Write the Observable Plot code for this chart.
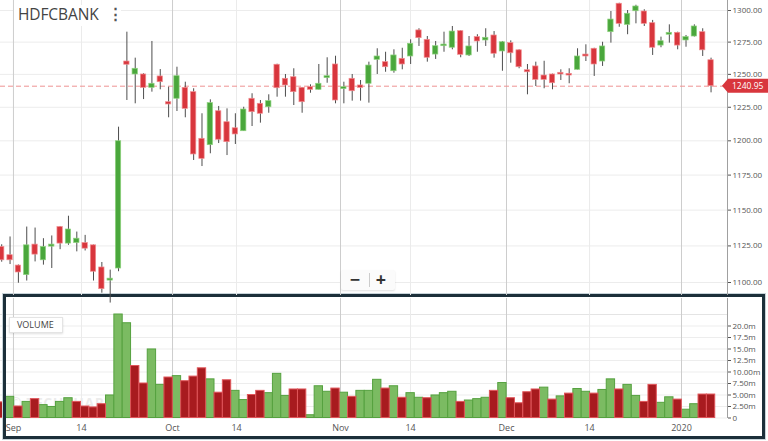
<!DOCTYPE html>
<html>
<head>
<meta charset="utf-8">
<script src="https://cdn.jsdelivr.net/npm/d3@7"></script>
<script src="https://cdn.jsdelivr.net/npm/@observablehq/plot@0.6"></script>
<style>
  html, body { margin: 0; padding: 0; background: #fff; }
  #wrap { position: relative; width: 768px; height: 441px; overflow: hidden; background: #fff; font-family: "Open Sans", sans-serif; }
  #wrap > * { position: absolute; left: 0; top: 0; }
  #watermark { left: 10px; top: 393px; font-size: 14px; font-weight: bold; color: #000; opacity: 0.07; letter-spacing: 0.5px; white-space: nowrap; }
  #border { left: 3px; top: 294px; width: 762px; height: 145px; box-sizing: border-box; border: 3px solid #1c2f3a; box-shadow: 0 0 0 1px #c7d3d9; }
  #title { left: 14px; top: 5px; width: 107px; height: 21px; background: #fff; }
  #title span.n { position: absolute; left: 4px; top: -2px; font-size: 15.5px; color: #444; letter-spacing: -0.1px; }
  #title span.m { position: absolute; left: 94px; top: -2px; font-size: 15px; color: #555; font-weight: bold; }
  #zoomctl { left: 341px; top: 270px; width: 54px; height: 20px; background: #fbfbfb; border-radius: 2px; box-shadow: 0 1px 2px rgba(0,0,0,0.12); }
  #zoomctl .b { position: absolute; top: -3px; font-size: 18px; font-weight: bold; color: #333; width: 20px; text-align: center; }
  #zoomctl .s { position: absolute; left: 28px; top: 3px; width: 1px; height: 14px; background: #ccc; }
  #vlabel { left: 9px; top: 317px; width: 54px; height: 16px; box-sizing: border-box; background: #fff; border: 1px solid #e4e4e4; box-shadow: 0 1px 2px rgba(0,0,0,0.12); font-size: 9px; color: #444; line-height: 14px; padding-left: 7px; }
</style>
</head>
<body>
<div id="wrap">
  <div id="watermark">© TECHCHARTS</div>
</div>
<script>
// ---- data (NSE trading days, Aug 29 2019 – Jan 6 2020) ----
const dates = [
  "2019-08-29","2019-08-30","2019-09-03","2019-09-04","2019-09-05","2019-09-06","2019-09-09","2019-09-11","2019-09-12","2019-09-13",
  "2019-09-16","2019-09-17","2019-09-18","2019-09-19","2019-09-20","2019-09-23","2019-09-24","2019-09-25","2019-09-26","2019-09-27",
  "2019-09-30","2019-10-01","2019-10-03","2019-10-04","2019-10-07","2019-10-09","2019-10-10","2019-10-11","2019-10-14","2019-10-15",
  "2019-10-16","2019-10-17","2019-10-18","2019-10-22","2019-10-23","2019-10-24","2019-10-25","2019-10-27","2019-10-29","2019-10-30",
  "2019-10-31","2019-11-01","2019-11-04","2019-11-05","2019-11-06","2019-11-07","2019-11-08","2019-11-11","2019-11-13","2019-11-14",
  "2019-11-15","2019-11-18","2019-11-19","2019-11-20","2019-11-21","2019-11-22","2019-11-25","2019-11-26","2019-11-27","2019-11-28",
  "2019-11-29","2019-12-02","2019-12-03","2019-12-04","2019-12-05","2019-12-06","2019-12-09","2019-12-10","2019-12-11","2019-12-12",
  "2019-12-13","2019-12-16","2019-12-17","2019-12-18","2019-12-19","2019-12-20","2019-12-23","2019-12-24","2019-12-26","2019-12-27",
  "2019-12-30","2019-12-31","2020-01-01","2020-01-02","2020-01-03","2020-01-06"
];
const open = [
  1124.3,1118.6,1111.5,1105.0,1125.9,1115.1,1124.5,1138.1,1126.6,1127.0,
  1127.0,1125.4,1110.2,1101.3,1109.5,1259.9,1249.9,1249.9,1239.7,1248.4,
  1228.8,1231.4,1239.7,1236.4,1201.5,1196.8,1222.0,1213.8,1209.3,1207.1,
  1231.4,1227.6,1225.0,1257.4,1246.6,1247.8,1239.7,1240.2,1238.2,1247.1,
  1257.6,1238.7,1246.6,1241.5,1242.8,1261.2,1259.4,1252.4,1262.0,1263.8,
  1284.2,1276.8,1265.3,1271.8,1270.6,1283.6,1264.6,1278.9,1276.3,1280.2,
  1267.7,1274.2,1268.6,1253.2,1256.1,1249.1,1249.9,1251.2,1250.4,1253.5,
  1265.3,1269.8,1259.9,1282.8,1305.4,1288.6,1299.4,1299.2,1289.9,1272.3,
  1280.8,1282.3,1276.3,1279.4,1282.8,1260.9
];
const high = [
  1125.8,1131.2,1111.9,1138.1,1137.4,1130.0,1131.9,1138.5,1145.7,1134.6,
  1132.3,1125.6,1113.6,1108.4,1210.1,1282.8,1262.5,1250.5,1275.5,1253.7,
  1240.2,1255.5,1244.0,1239.0,1220.1,1230.6,1225.6,1223.8,1220.1,1225.0,
  1235.2,1230.1,1234.4,1257.8,1249.9,1254.3,1240.0,1242.0,1257.6,1262.8,
  1264.0,1244.0,1249.9,1245.3,1259.4,1269.8,1267.1,1269.0,1270.2,1276.8,
  1285.5,1279.4,1275.5,1282.8,1287.3,1284.0,1279.4,1280.8,1285.5,1283.3,
  1275.5,1276.0,1269.0,1257.6,1259.4,1260.1,1250.2,1253.5,1254.3,1269.8,
  1272.9,1270.2,1274.9,1299.2,1305.8,1300.0,1304.2,1300.6,1292.1,1278.9,
  1288.6,1282.8,1280.2,1288.6,1285.5,1262.5
];
const low = [
  1113.8,1112.2,1099.5,1101.0,1114.0,1111.8,1109.5,1122.4,1125.4,1120.9,
  1121.5,1101.0,1092.8,1086.2,1107.3,1230.1,1227.6,1230.8,1236.4,1238.2,
  1217.1,1221.8,1217.1,1185.6,1181.2,1190.5,1198.0,1189.2,1197.3,1207.0,
  1210.6,1213.1,1220.5,1232.6,1232.6,1226.3,1220.5,1235.6,1238.0,1243.2,
  1227.6,1227.6,1229.6,1229.6,1228.1,1249.9,1251.6,1250.9,1253.5,1257.6,
  1271.6,1259.4,1261.5,1267.1,1269.0,1262.8,1263.8,1267.1,1271.6,1262.5,
  1252.4,1258.6,1254.3,1234.4,1240.7,1239.0,1238.2,1245.3,1242.8,1253.3,
  1259.9,1248.4,1256.1,1274.2,1286.7,1280.8,1289.4,1287.3,1264.6,1270.6,
  1274.2,1269.0,1271.0,1279.0,1263.8,1235.9
];
const close = [
  1115.1,1115.1,1106.8,1125.4,1119.0,1124.3,1125.9,1126.6,1136.4,1130.0,
  1123.1,1107.3,1095.5,1102.6,1199.7,1257.4,1254.3,1239.7,1242.8,1244.0,
  1227.1,1248.6,1223.8,1190.0,1186.8,1228.1,1200.8,1199.0,1204.7,1223.3,
  1221.3,1220.1,1229.6,1239.4,1241.5,1236.4,1228.8,1238.2,1242.8,1248.6,
  1230.1,1240.2,1237.1,1239.7,1256.8,1263.8,1255.5,1264.6,1257.6,1273.7,
  1278.1,1262.8,1271.8,1273.1,1283.3,1265.1,1271.6,1275.5,1278.4,1265.9,
  1274.9,1266.3,1255.5,1251.6,1245.8,1245.8,1243.2,1249.9,1249.1,1263.8,
  1263.8,1257.6,1271.6,1292.8,1289.4,1297.4,1303.2,1289.4,1270.6,1275.7,
  1282.3,1272.3,1278.9,1287.3,1268.6,1240.95
];
// volume in millions of shares
const volume = [
  3.4,4.6,2.5,3.5,4.1,2.8,2.4,3.5,4.3,3.5,
  2.5,2.3,3.0,4.9,22.5,20.6,11.3,7.5,14.9,7.2,
  8.8,9.1,8.0,9.0,10.8,8.4,5.5,8.2,5.9,3.9,
  5.0,5.9,5.4,9.6,4.8,6.2,6.2,0.6,6.9,5.7,
  6.4,5.5,4.6,5.9,5.9,8.3,6.4,6.9,4.4,5.4,
  4.4,4.3,4.9,5.4,5.7,3.5,3.8,4.1,4.4,5.9,
  7.6,4.3,3.2,5.6,6.2,6.6,4.0,4.7,5.3,6.3,
  5.7,5.3,6.1,8.4,6.2,7.2,4.8,3.5,7.2,3.3,
  4.5,4.0,1.8,3.0,5.1,5.1
];
// volume bar colour: 1 = up (green), 0 = down (red)
const volDir = [
  0,1,0,1,0,1,1,1,1,0,
  0,0,0,1,1,1,0,0,1,1,
  0,1,0,0,0,1,0,0,1,1,
  0,0,1,1,1,0,0,1,1,1,
  0,1,0,1,1,1,0,1,0,1,
  1,0,1,1,1,0,1,1,1,0,
  1,0,0,0,0,1,0,1,0,1,
  1,0,1,1,0,1,1,0,0,1,
  1,0,1,1,0,0
];
const lastClose = 1240.95;
const priceTicks = [1100,1125,1150,1175,1200,1225,1250,1275,1300];
const volTicks = [0,2.5e6,5e6,7.5e6,10e6,12.5e6,15e6,17.5e6,20e6];
const volTickLabels = ["0","2.50m","5.00m","7.50m","10.00m","12.5m","15.0m","17.5m","20.0m"];
const xTickLabels = ["Sep","14","Oct","14","Nov","14","Dec","14","2020"];
const xTickPos = [1.41, 9.56, 20.47, 28.14, 40.60, 48.99, 60.49, 70.44, 81.46]; // in trading-day index
const xTickMajor = [1,0,1,0,1,0,1,0,1];

// ---- build tables ----
const candles = dates.map((d, i) => ({
  i, date: d, open: open[i], high: high[i], low: low[i], close: close[i],
  vol: volume[i] * 1e6, volUp: volDir[i] === 1
}));
const upC = candles.filter(d => d.close >= d.open);
const dnC = candles.filter(d => d.close < d.open);
const xTicks = xTickLabels.map((label, k) => ({label, idx: xTickPos[k], major: xTickMajor[k] === 1}));
const xDomain = [-0.144, 86.97];
const half = 0.32;

const wrap = document.getElementById("wrap");
const font = "'Open Sans', sans-serif";

// ---- volume panel ----
const volPlot = Plot.plot({
  width: 768, height: 441,
  marginLeft: 0, marginRight: 41, marginTop: 298, marginBottom: 23,
  style: {background: "transparent", overflow: "visible", fontFamily: font, fontSize: "8px", color: "#555"},
  x: {domain: xDomain, axis: null},
  y: {domain: [0, 20e6], range: [417.5, 325.5], axis: null},
  marks: [
    Plot.ruleY(volTicks, {stroke: "#ededed"}),
    Plot.ruleY([22.5e6], {stroke: "#e4e4e4"}),
    Plot.ruleX(xTicks.filter(d => !d.major), {x: "idx", stroke: "#ebebeb"}),
    Plot.ruleX(xTicks.filter(d => d.major), {x: "idx", stroke: "#cdcdcd"}),
    Plot.rect(candles.filter(d => d.volUp), {x1: d => d.i - 0.5, x2: d => d.i + 0.5, y1: 0, y2: "vol", fill: "#7bbb62", stroke: "#55a13f", strokeWidth: 1}),
    Plot.rect(candles.filter(d => !d.volUp), {x1: d => d.i - 0.5, x2: d => d.i + 0.5, y1: 0, y2: "vol", fill: "#a81b1f", stroke: "#e0555a", strokeWidth: 1}),
    Plot.ruleX([xDomain[1]], {stroke: "#a0a0a0"}),
    Plot.axisY({anchor: "right", label: null, ticks: volTicks, tickFormat: d => volTickLabels[volTicks.indexOf(d)], tickSize: 3, tickPadding: 2, fontSize: 8}),
    Plot.text(xTicks, {x: "idx", text: "label", frameAnchor: "bottom", dy: 12.5, fontSize: 9, fill: "#555"})
  ]
});
wrap.appendChild(volPlot);

// border of the volume pane
const border = document.createElement("div");
border.id = "border";
wrap.appendChild(border);

// ---- price panel ----
const pricePlot = Plot.plot({
  width: 768, height: 441,
  marginLeft: 0, marginRight: 41, marginTop: 0, marginBottom: 146,
  style: {background: "transparent", overflow: "visible", fontFamily: font, fontSize: "8px", color: "#555"},
  x: {domain: xDomain, axis: null},
  y: {type: "log", domain: [1100, 1300], range: [282, 10], axis: null},
  marks: [
    Plot.ruleY(priceTicks, {stroke: "#ececec"}),
    Plot.ruleX(xTicks.filter(d => !d.major), {x: "idx", stroke: "#ebebeb"}),
    Plot.ruleX(xTicks.filter(d => d.major), {x: "idx", stroke: "#cdcdcd"}),
    Plot.ruleY([lastClose], {stroke: "#ee9393", strokeDasharray: "5,3"}),
    Plot.ruleX(candles, {x: "i", y1: "low", y2: "high", stroke: "#4d4d4d", strokeWidth: 1}),
    Plot.rect(upC, {x1: d => d.i - half, x2: d => d.i + half, y1: "open", y2: "close", fill: "#4aa73c", stroke: "#8fd27f", strokeWidth: 0.7}),
    Plot.rect(dnC, {x1: d => d.i - half, x2: d => d.i + half, y1: "open", y2: "close", fill: "#d8363d", stroke: "#f28d90", strokeWidth: 0.7}),
    Plot.ruleX([xDomain[1]], {stroke: "#a0a0a0"}),
    Plot.axisY({anchor: "right", label: null, ticks: priceTicks, tickFormat: d => d.toFixed(2), tickSize: 3, tickPadding: 2, fontSize: 8})
  ]
});
wrap.appendChild(pricePlot);

// last-price tag, positioned with the plot's own scales
(function () {
  const y = pricePlot.scale("y").apply(lastClose);
  const xs = pricePlot.scale("x").apply(xDomain[1]);
  const svg = d3.select(pricePlot);
  svg.append("path")
    .attr("d", `M${xs - 5},${y} L${xs + 1},${y - 7} L768,${y - 7} L768,${y + 7} L${xs + 1},${y + 7} Z`)
    .attr("fill", "#d8363d");
  svg.append("text")
    .attr("x", xs + 5).attr("y", y).attr("dy", "0.35em")
    .attr("text-anchor", "start")
    .attr("fill", "#fff").attr("font-size", 8.5).attr("font-family", font)
    .text(lastClose.toFixed(2));
})();

// overlays
wrap.insertAdjacentHTML("beforeend", `
  <div id="title"><span class="n">HDFCBANK</span><span class="m">⋮</span></div>
  <div id="zoomctl"><span class="b" style="left:4px">−</span><span class="s"></span><span class="b" style="left:30px">+</span></div>
  <div id="vlabel">VOLUME</div>
`);
</script>
</body>
</html>
